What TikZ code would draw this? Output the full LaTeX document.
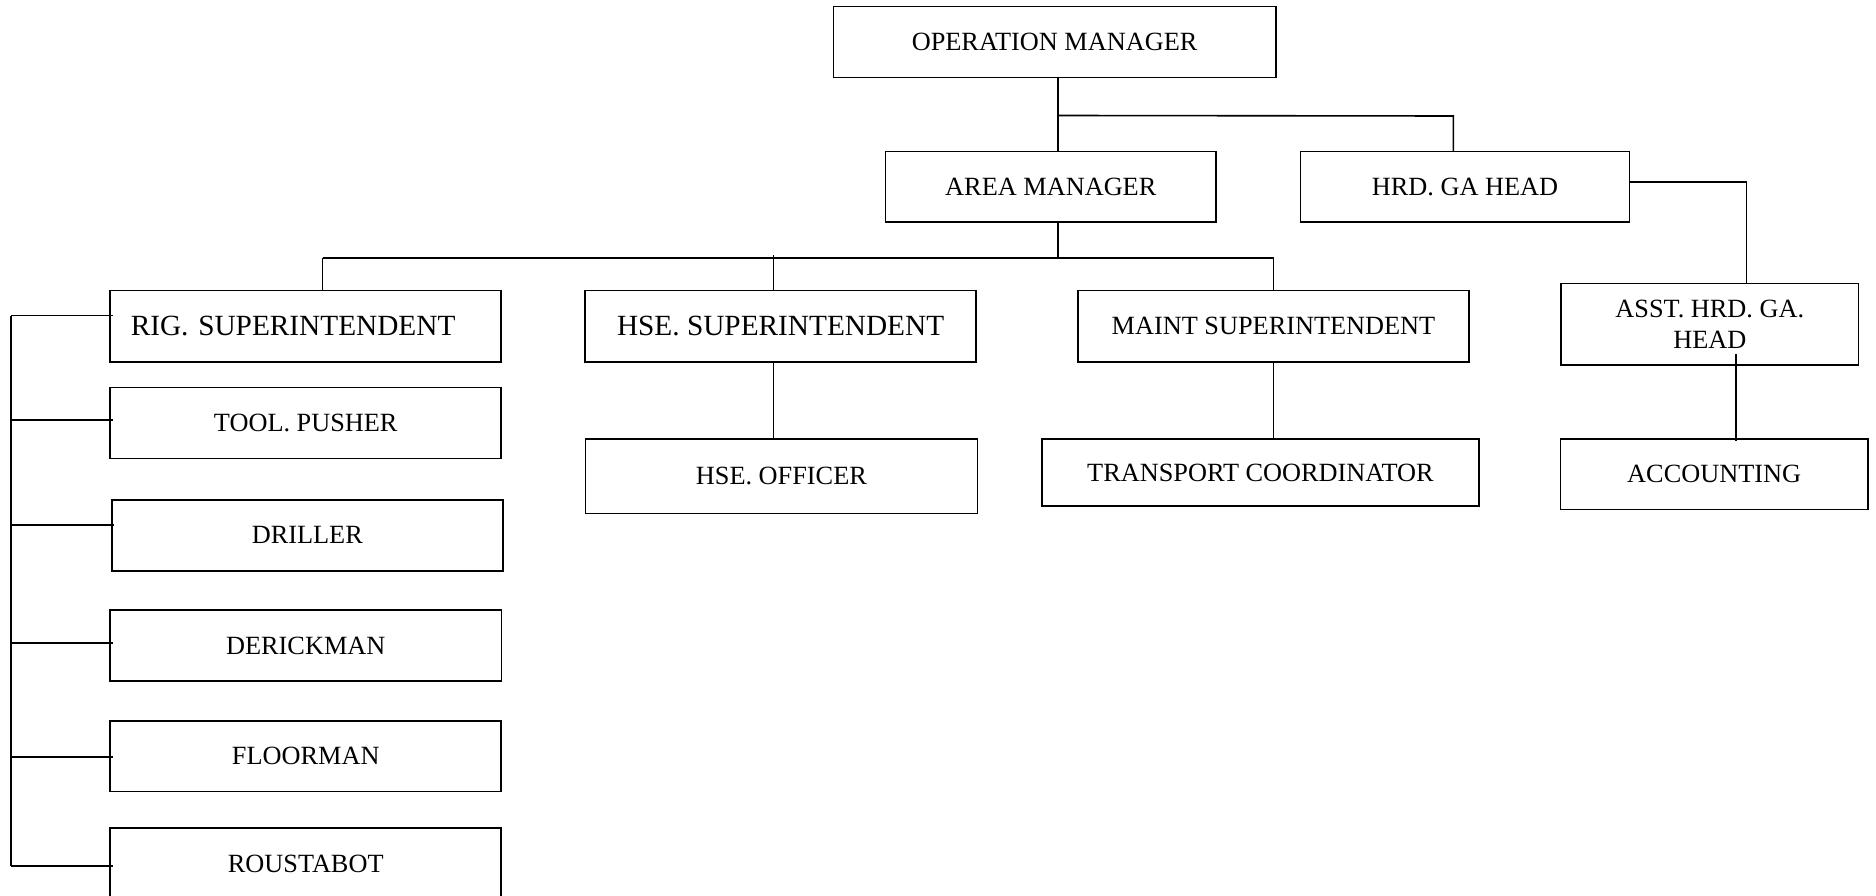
\documentclass[tikz,border=0pt]{standalone}
\usepackage{fontspec}
\setmainfont{Liberation Serif}
\begin{document}
\begin{tikzpicture}[x=1pt,y=-1pt]
\tikzset{
  box/.style={draw, line width=1.6pt, rectangle, inner sep=0pt, align=center,
    text depth=-3.6pt, font=\fontsize{26.3}{31}\selectfont},
  bigfont/.style={font=\fontsize{29.3}{34}\selectfont},
  conn/.style={line width=1.6pt},
}
\useasboundingbox (0,0) rectangle (1876,896);
\clip (0,0) rectangle (1876,896);
\fill[white] (0,0) rectangle (1876,896);

% nodes
\node[box, minimum width=442.6pt, minimum height=71pt] (opm) at (1054.6,42.2) {OPERATION MANAGER};
\node[box, minimum width=330.5pt, minimum height=70.6pt] (area) at (1050.8,187) {AREA MANAGER};
\node[box, minimum width=329.1pt, minimum height=70.6pt] (hrd) at (1465,187) {HRD. GA HEAD};
\node[box, bigfont, minimum width=391pt, minimum height=71.4pt, text width=350pt, align=left, inner xsep=20.4pt] (rig) at (305.75,326) {RIG. SUPERINTENDENT};
\node[box, bigfont, minimum width=391pt, minimum height=71.4pt] (hsesup) at (780.6,326) {HSE. SUPERINTENDENT};
\node[box, minimum width=391pt, minimum height=71.4pt] (maint) at (1273.5,326) {MAINT SUPERINTENDENT};
\node[box, minimum width=297.3pt, minimum height=81.7pt] (asst) at (1709.8,324.2) {ASST. HRD. GA.\\HEAD};
\node[box, minimum width=391pt, minimum height=71pt] (tool) at (305.75,422.8) {TOOL. PUSHER};
\node[box, minimum width=391.2pt, minimum height=70.7pt] (drill) at (307.3,535.35) {DRILLER};
\node[box, minimum width=391.1pt, minimum height=70.7pt] (derick) at (305.75,645.35) {DERICKMAN};
\node[box, minimum width=391pt, minimum height=70.6pt] (floor) at (305.75,756) {FLOORMAN};
\node[box, minimum width=391pt, minimum height=71pt] (rousta) at (305.75,863.5) {ROUSTABOT};
\node[box, minimum width=392.2pt, minimum height=74.3pt] (hseoff) at (781.4,476.15) {HSE. OFFICER};
\node[box, minimum width=436.9pt, minimum height=67pt] (trans) at (1260.45,472.5) {TRANSPORT COORDINATOR};
\node[box, minimum width=307.7pt, minimum height=70.3pt] (acc) at (1714.15,474.15) {ACCOUNTING};

% junction coordinates
\coordinate (jop) at (1057.7,115.5);
\coordinate (jhrd) at (1453.4,116);
\coordinate (jar) at (1057.7,257.7);
\coordinate (bl) at (322.5,257.7);
\coordinate (br) at (1273.5,257.7);
\coordinate (bh) at (773.4,255);
\coordinate (jh2) at (1746.5,182);
\coordinate (ja) at (1736,354.3);
\coordinate (l1) at (10.8,315.5);
\coordinate (l2) at (10.8,420);
\coordinate (l3) at (10.8,525);
\coordinate (l4) at (10.8,643);
\coordinate (l5) at (10.8,757);
\coordinate (l6) at (10.8,866);

% connectors
\draw[conn] (opm.south -| jop) -- (area.north -| jop);
\draw[conn] (jop) -- (jhrd) -- (hrd.north -| jhrd);
\draw[conn] (area.south -| jar) -- (jar);
\draw[conn] (bl) -- (br);
\draw[conn] (bl) -- (rig.north -| bl);
\draw[conn] (bh) -- (hsesup.north -| bh);
\draw[conn] (br) -- (maint.north);
\draw[conn] (hrd.east |- jh2) -- (jh2) -- (asst.north -| jh2);
\draw[conn] (hsesup.south -| bh) -- (hseoff.north -| bh);
\draw[conn] (maint.south) -- (trans.north -| maint.south);
\draw[conn] (ja) -- ([yshift=-3pt]acc.north -| ja);
\draw[conn] (l1) -- (l6);
\draw[conn] (l1) -- ([xshift=4pt]rig.west |- l1);
\draw[conn] (l2) -- ([xshift=4pt]tool.west |- l2);
\draw[conn] (l3) -- ([xshift=3pt]drill.west |- l3);
\draw[conn] (l4) -- ([xshift=4pt]derick.west |- l4);
\draw[conn] (l5) -- ([xshift=4pt]floor.west |- l5);
\draw[conn] (l6) -- ([xshift=4pt]rousta.west |- l6);
\end{tikzpicture}
\end{document}
